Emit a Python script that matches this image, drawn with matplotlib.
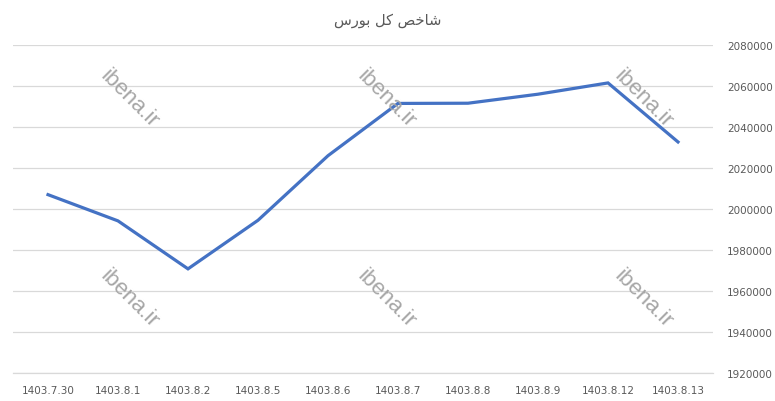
import matplotlib
matplotlib.use("Agg")
import matplotlib.pyplot as plt

categories = ["1403.7.30", "1403.8.1", "1403.8.2", "1403.8.5", "1403.8.6",
              "1403.8.7", "1403.8.8", "1403.8.9", "1403.8.12", "1403.8.13"]
values = [2007000, 1994200, 1970800, 1994500, 2026000,
          2051500, 2051600, 2056000, 2061500, 2032700]
y_ticks = [1920000, 1940000, 1960000, 1980000, 2000000,
           2020000, 2040000, 2060000, 2080000]

# Title "شاخص کل بورس" written in shaped presentation forms, visual (LTR) order
title = "\uFEB1\uFEAD\uFEEE\uFE91 \uFEDE\uFB90 \uFEBA\uFEA7\uFE8E\uFEB7"

fig = plt.figure(figsize=(7.75, 4.02), dpi=100)
ax = fig.add_axes([13/775, 1-374/402, 700/775, 328/402])

x = list(range(len(categories)))
ax.plot(x, values, color="#4472C4", linewidth=2.3, solid_joinstyle="miter", zorder=3)

ax.set_xlim(-0.5, len(categories)-0.5)
ax.set_ylim(1920000, 2080000)
ax.set_yticks(y_ticks)
ax.set_yticklabels([str(v) for v in y_ticks])
ax.set_xticks(x)
ax.set_xticklabels(categories)

ax.yaxis.tick_right()
ax.grid(axis="y", color="#d9d9d9", linewidth=0.9)
ax.set_axisbelow(True)
for s in ["top", "left", "right"]:
    ax.spines[s].set_visible(False)
ax.spines["bottom"].set_color("#d9d9d9")
ax.spines["bottom"].set_linewidth(0.9)
ax.tick_params(axis="both", length=0, labelcolor="#595959", labelsize=7.5,
               labelfontfamily="DejaVu Sans")
ax.tick_params(axis="y", pad=10)
ax.tick_params(axis="x", pad=9)
for lab in ax.get_yticklabels():
    lab.set_horizontalalignment("left")

fig.text(388/775, 1-20/402, title, ha="center", va="center", fontsize=10.5,
         color="#595959", family=["DejaVu Sans"])

wm_pos = [(129, 99), (386, 99), (643, 99), (129, 299), (386, 299), (643, 299)]
for (px, py) in wm_pos:
    fig.text(px/775, 1-py/402, "ibena.ir", rotation=-45, ha="center", va="center",
             fontsize=16, color="#a6a6a6", family="Liberation Sans",
             rotation_mode="anchor", zorder=5)

fig.savefig("out.png", dpi=100)
